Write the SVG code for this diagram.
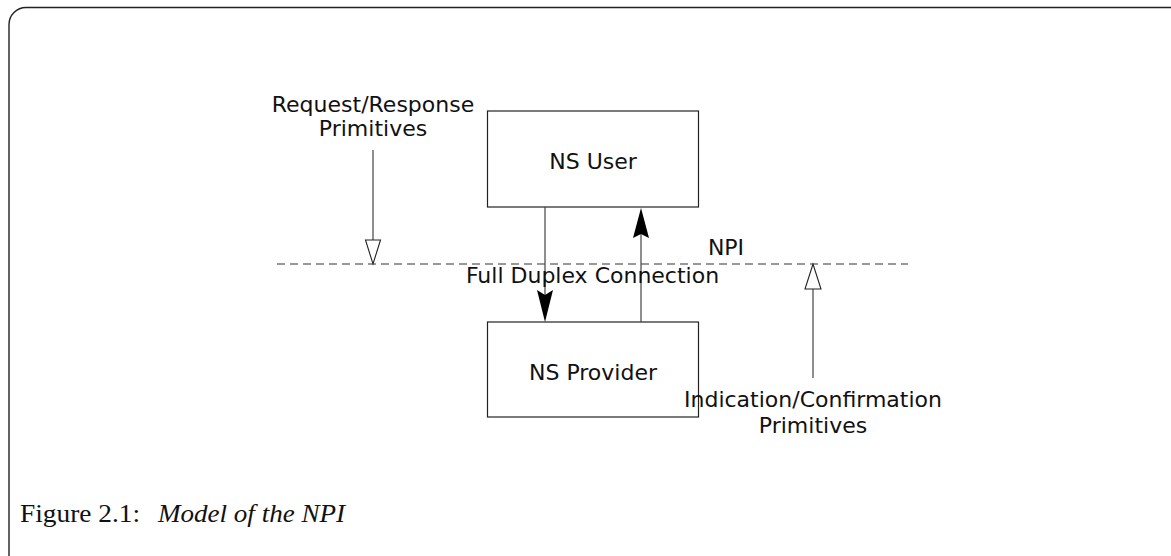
<svg xmlns="http://www.w3.org/2000/svg" width="1171" height="556" viewBox="0 0 1171 556">
<style>
.lbl{font-family:"DejaVu Sans",sans-serif;font-size:22px;fill:#111;text-anchor:middle}
.box{fill:#fff;stroke:#222;stroke-width:1.2}
.ln{stroke:#444;stroke-width:1.2;fill:none}
.cap{font-family:"Liberation Serif",serif;font-size:25px;fill:#111}
</style>
<rect x="9" y="7.5" width="1180" height="570" rx="17" fill="none" stroke="#222" stroke-width="1.4"/>
<g id="npi-line">
<line x1="277" y1="264" x2="908" y2="264" stroke="#333" stroke-width="1.1" stroke-dasharray="8,5"/>
<text class="lbl" x="726" y="255">NPI</text>
</g>
<g id="ns-user">
<rect class="box" x="487.5" y="111" width="211" height="96"/>
<text class="lbl" x="593" y="169">NS User</text>
</g>
<g id="ns-provider">
<rect class="box" x="487.5" y="322" width="211" height="95"/>
<text class="lbl" x="593" y="380">NS Provider</text>
</g>
<g id="connectors">
<line class="ln" x1="373" y1="150" x2="373" y2="240"/>
<path d="M365.5,240 L380.5,240 L373,264 Z" fill="#fff" stroke="#222" stroke-width="1.1"/>
<line class="ln" x1="545" y1="207" x2="545" y2="300"/>
<path d="M545,322 L537,290 L545,295 L553,290 Z" fill="#000"/>
<line class="ln" x1="641" y1="322" x2="641" y2="230"/>
<path d="M641,208 L633,238 L641,234 L649,238 Z" fill="#000"/>
<line class="ln" x1="813" y1="378" x2="813" y2="289"/>
<path d="M805,289 L821,289 L813,264 Z" fill="#fff" stroke="#222" stroke-width="1.1"/>
</g>
<g id="labels">
<text class="lbl" x="373" y="112">Request/Response</text>
<text class="lbl" x="373" y="136">Primitives</text>
<text class="lbl" x="592.5" y="283">Full Duplex Connection</text>
<text class="lbl" x="813" y="407">Indication/Confirmation</text>
<text class="lbl" x="813" y="433">Primitives</text>
</g>
<g id="caption">
<text class="cap" x="20" y="522" textLength="120" lengthAdjust="spacingAndGlyphs">Figure 2.1:</text>
<text class="cap" x="158" y="522" font-style="italic" textLength="187" lengthAdjust="spacingAndGlyphs">Model of the NPI</text>
</g>
</svg>
